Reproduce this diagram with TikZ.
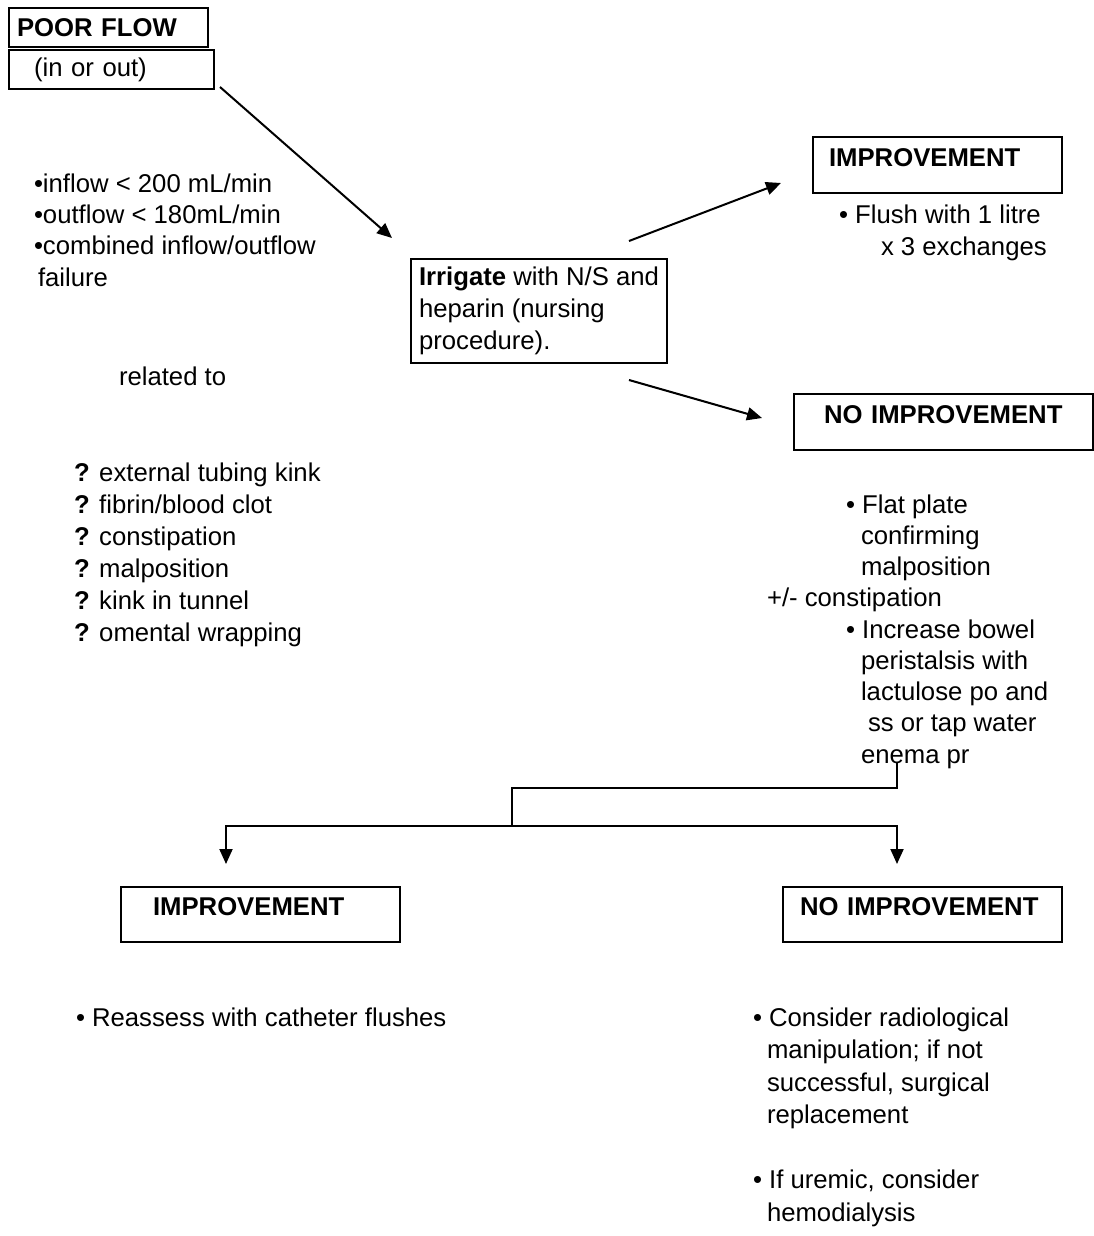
\documentclass[tikz,border=0pt]{standalone}
\usepackage{fontspec}
\setmainfont{Liberation Sans}
\usetikzlibrary{arrows.meta}

\begin{document}
\begin{tikzpicture}[x = 1pt, y = -1pt, line width = 2pt,
    every node/.style = { font = \fontsize{25.7}{32}\selectfont, inner sep = 0pt, align = left },
    txt/.style = { anchor = base west },
    box/.style = { draw, anchor = north west, inner ysep = 0pt },
    head/.style = { box, font = \fontsize{25.7}{32}\selectfont\bfseries, text depth = 15pt },
    arr/.style = { -{Triangle[length = 15pt, width = 13pt]} }]
  \useasboundingbox (0,0) rectangle (1094,1236);

  \node [box, minimum width = 199pt, minimum height = 39pt, inner xsep = 8pt, text width = 183pt,
    font = \fontsize{25.7}{32}\selectfont\bfseries] (poor) at (8,7) {POOR FLOW};
  \node [box, minimum width = 205pt, minimum height = 39pt, inner xsep = 25pt, text width = 155pt]
    (inout) at (8,49) {(in or out)};
  \node [box, minimum width = 256pt, minimum height = 104pt, inner xsep = 8pt]
    (irrig) at (410,258) {\textbf{Irrigate} with N/S and\\heparin (nursing\\procedure).};
  \node [head, minimum width = 249pt, minimum height = 56pt, inner xsep = 16pt, text width = 217pt]
    (impr1) at (812,136) {IMPROVEMENT};
  \node [head, minimum width = 299pt, minimum height = 56pt, inner xsep = 30pt, text width = 239pt]
    (noimpr1) at (793,393) {NO~IMPROVEMENT};
  \node [head, minimum width = 279pt, minimum height = 55pt, inner xsep = 32pt, text width = 215pt]
    (impr2) at (120,886) {IMPROVEMENT};
  \node [head, minimum width = 279pt, minimum height = 55pt, inner xsep = 17pt, text width = 245pt]
    (noimpr2) at (782,886) {NO~IMPROVEMENT};

  \node [txt, font = \fontsize{25.7}{31.3}\selectfont] (flows) at (33,286)
    {•inflow < 200 mL/min\\•outflow < 180mL/min\\•combined inflow/outflow\\\hspace*{4pt}failure};
  \node [txt] (related) at (118,385) {related to};
  \node [txt] (causes) at (73,641)
    {\textbf{?} external tubing kink\\\textbf{?} fibrin/blood clot\\\textbf{?} constipation\\
     \textbf{?} malposition\\\textbf{?} kink in tunnel\\\textbf{?} omental wrapping};
  \node [txt] (flush) at (838,255) {• Flush with 1 litre\\\hspace*{42pt}x 3 exchanges};
  \node [txt, font = \fontsize{25.7}{31.25}\selectfont] (bowel) at (766,763)
    {\hspace*{79pt}• Flat plate\\\hspace*{94pt}confirming\\\hspace*{94pt}malposition\\
     +/- constipation\\\hspace*{79pt}• Increase bowel\\\hspace*{94pt}peristalsis with\\
     \hspace*{94pt}lactulose po and\\\hspace*{101pt}ss or tap water\\\hspace*{94pt}enema pr};
  \node [txt] (reassess) at (75,1026) {• Reassess with catheter flushes};
  \node [txt, font = \fontsize{25.7}{32.5}\selectfont] (surgery) at (752,1221)
    {• Consider radiological\\\hspace*{14pt}manipulation; if not\\\hspace*{14pt}successful, surgical\\
     \hspace*{14pt}replacement\\[32.5pt]• If uremic, consider\\\hspace*{14pt}hemodialysis};

  \coordinate (enema) at (897,763);
  \coordinate (fork) at (512,826);
  \coordinate (tl) at (226,864);
  \coordinate (tr) at (897,864);

  \draw [arr] ([shift = {(5,-3)}]inout.south east) -- ([shift = {(-18,-20)}]irrig.north west);
  \draw [arr] ([shift = {(-39,-17)}]irrig.north east) -- ([shift = {(-31,18)}]impr1.west);
  \draw [arr] ([shift = {(-39,16)}]irrig.south east) -- ([shift = {(-31,-4)}]noimpr1.west);
  \draw (enema) -- ++(0,25) -| (fork);
  \draw [arr] (fork) -| (tl);
  \draw [arr] (fork) -| (tr);
\end{tikzpicture}
\end{document}
